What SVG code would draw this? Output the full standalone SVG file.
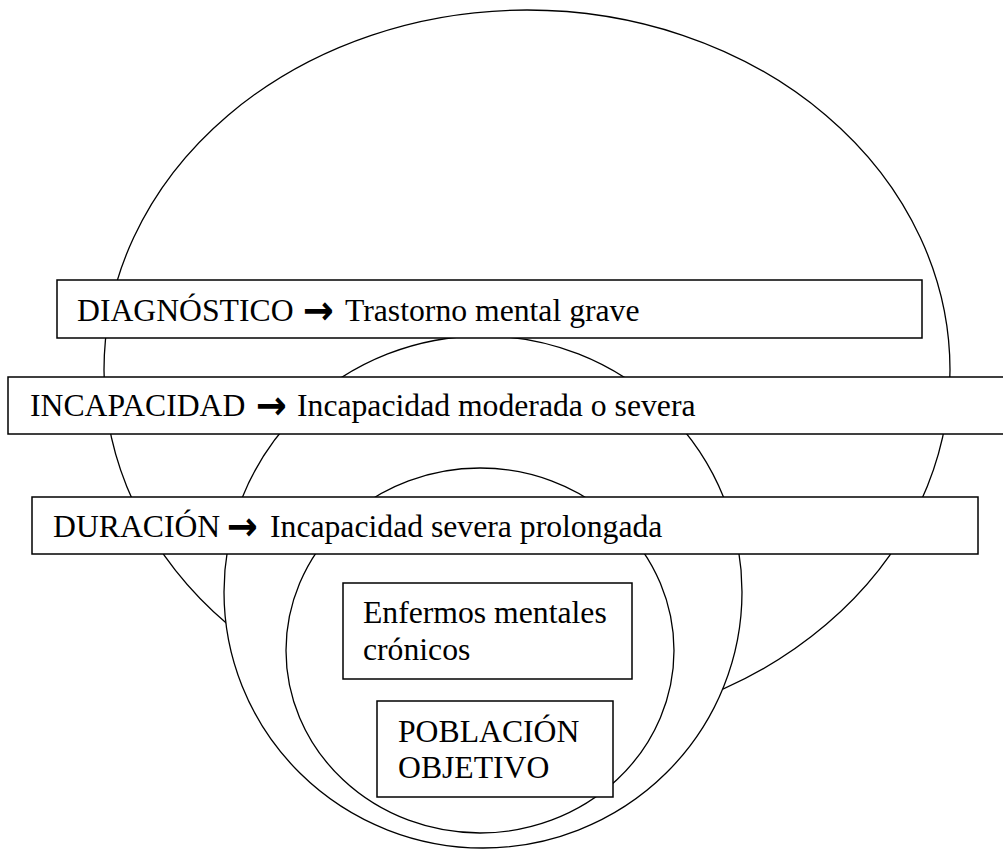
<svg xmlns="http://www.w3.org/2000/svg" width="1003" height="850" viewBox="0 0 1003 850">
<style>
.bg{fill:#fff}
.shape{fill:#fff;stroke:#000;stroke-width:1.3}
.box{fill:#fff;stroke:#000;stroke-width:1.5}
.t{font-family:"Liberation Serif","Times New Roman",serif;font-size:31.7px;fill:#000}
.arr{font-family:"DejaVu Sans",sans-serif;font-weight:bold;font-size:40px;fill:#000}
</style>
<rect class="bg" x="0" y="0" width="1003" height="850"/>
<g id="circles">
<ellipse id="outer" class="shape" cx="527" cy="370" rx="423" ry="360"/>
<ellipse id="middle" class="shape" cx="483" cy="592" rx="259" ry="256"/>
<ellipse id="inner" class="shape" cx="480" cy="650.5" rx="194" ry="182.5"/>
</g>
<g id="connectors"></g>
<g id="diagnostico">
<rect class="box" x="57" y="280" width="865" height="58"/>
<text class="t" x="77" y="321">DIAGNÓSTICO</text>
<text class="arr" x="303" y="323.5" textLength="31" lengthAdjust="spacingAndGlyphs">→</text>
<text class="t" x="345" y="321">Trastorno mental grave</text>
</g>
<g id="incapacidad">
<rect class="box" x="8" y="377" width="1005" height="57"/>
<text class="t" x="30" y="416">INCAPACIDAD</text>
<text class="arr" x="256" y="418.5" textLength="31" lengthAdjust="spacingAndGlyphs">→</text>
<text class="t" x="297" y="416">Incapacidad moderada o severa</text>
</g>
<g id="duracion">
<rect class="box" x="32" y="497" width="946" height="57"/>
<text class="t" x="53" y="537">DURACIÓN</text>
<text class="arr" x="227" y="539.5" textLength="31" lengthAdjust="spacingAndGlyphs">→</text>
<text class="t" x="270" y="537">Incapacidad severa prolongada</text>
</g>
<g id="enfermos">
<rect class="box" x="343" y="583" width="289" height="96"/>
<text class="t" x="363" y="623">Enfermos mentales</text>
<text class="t" x="363" y="660">crónicos</text>
</g>
<g id="poblacion">
<rect class="box" x="377" y="701" width="236" height="96"/>
<text class="t" x="398" y="742">POBLACIÓN</text>
<text class="t" x="398" y="778">OBJETIVO</text>
</g>
</svg>
